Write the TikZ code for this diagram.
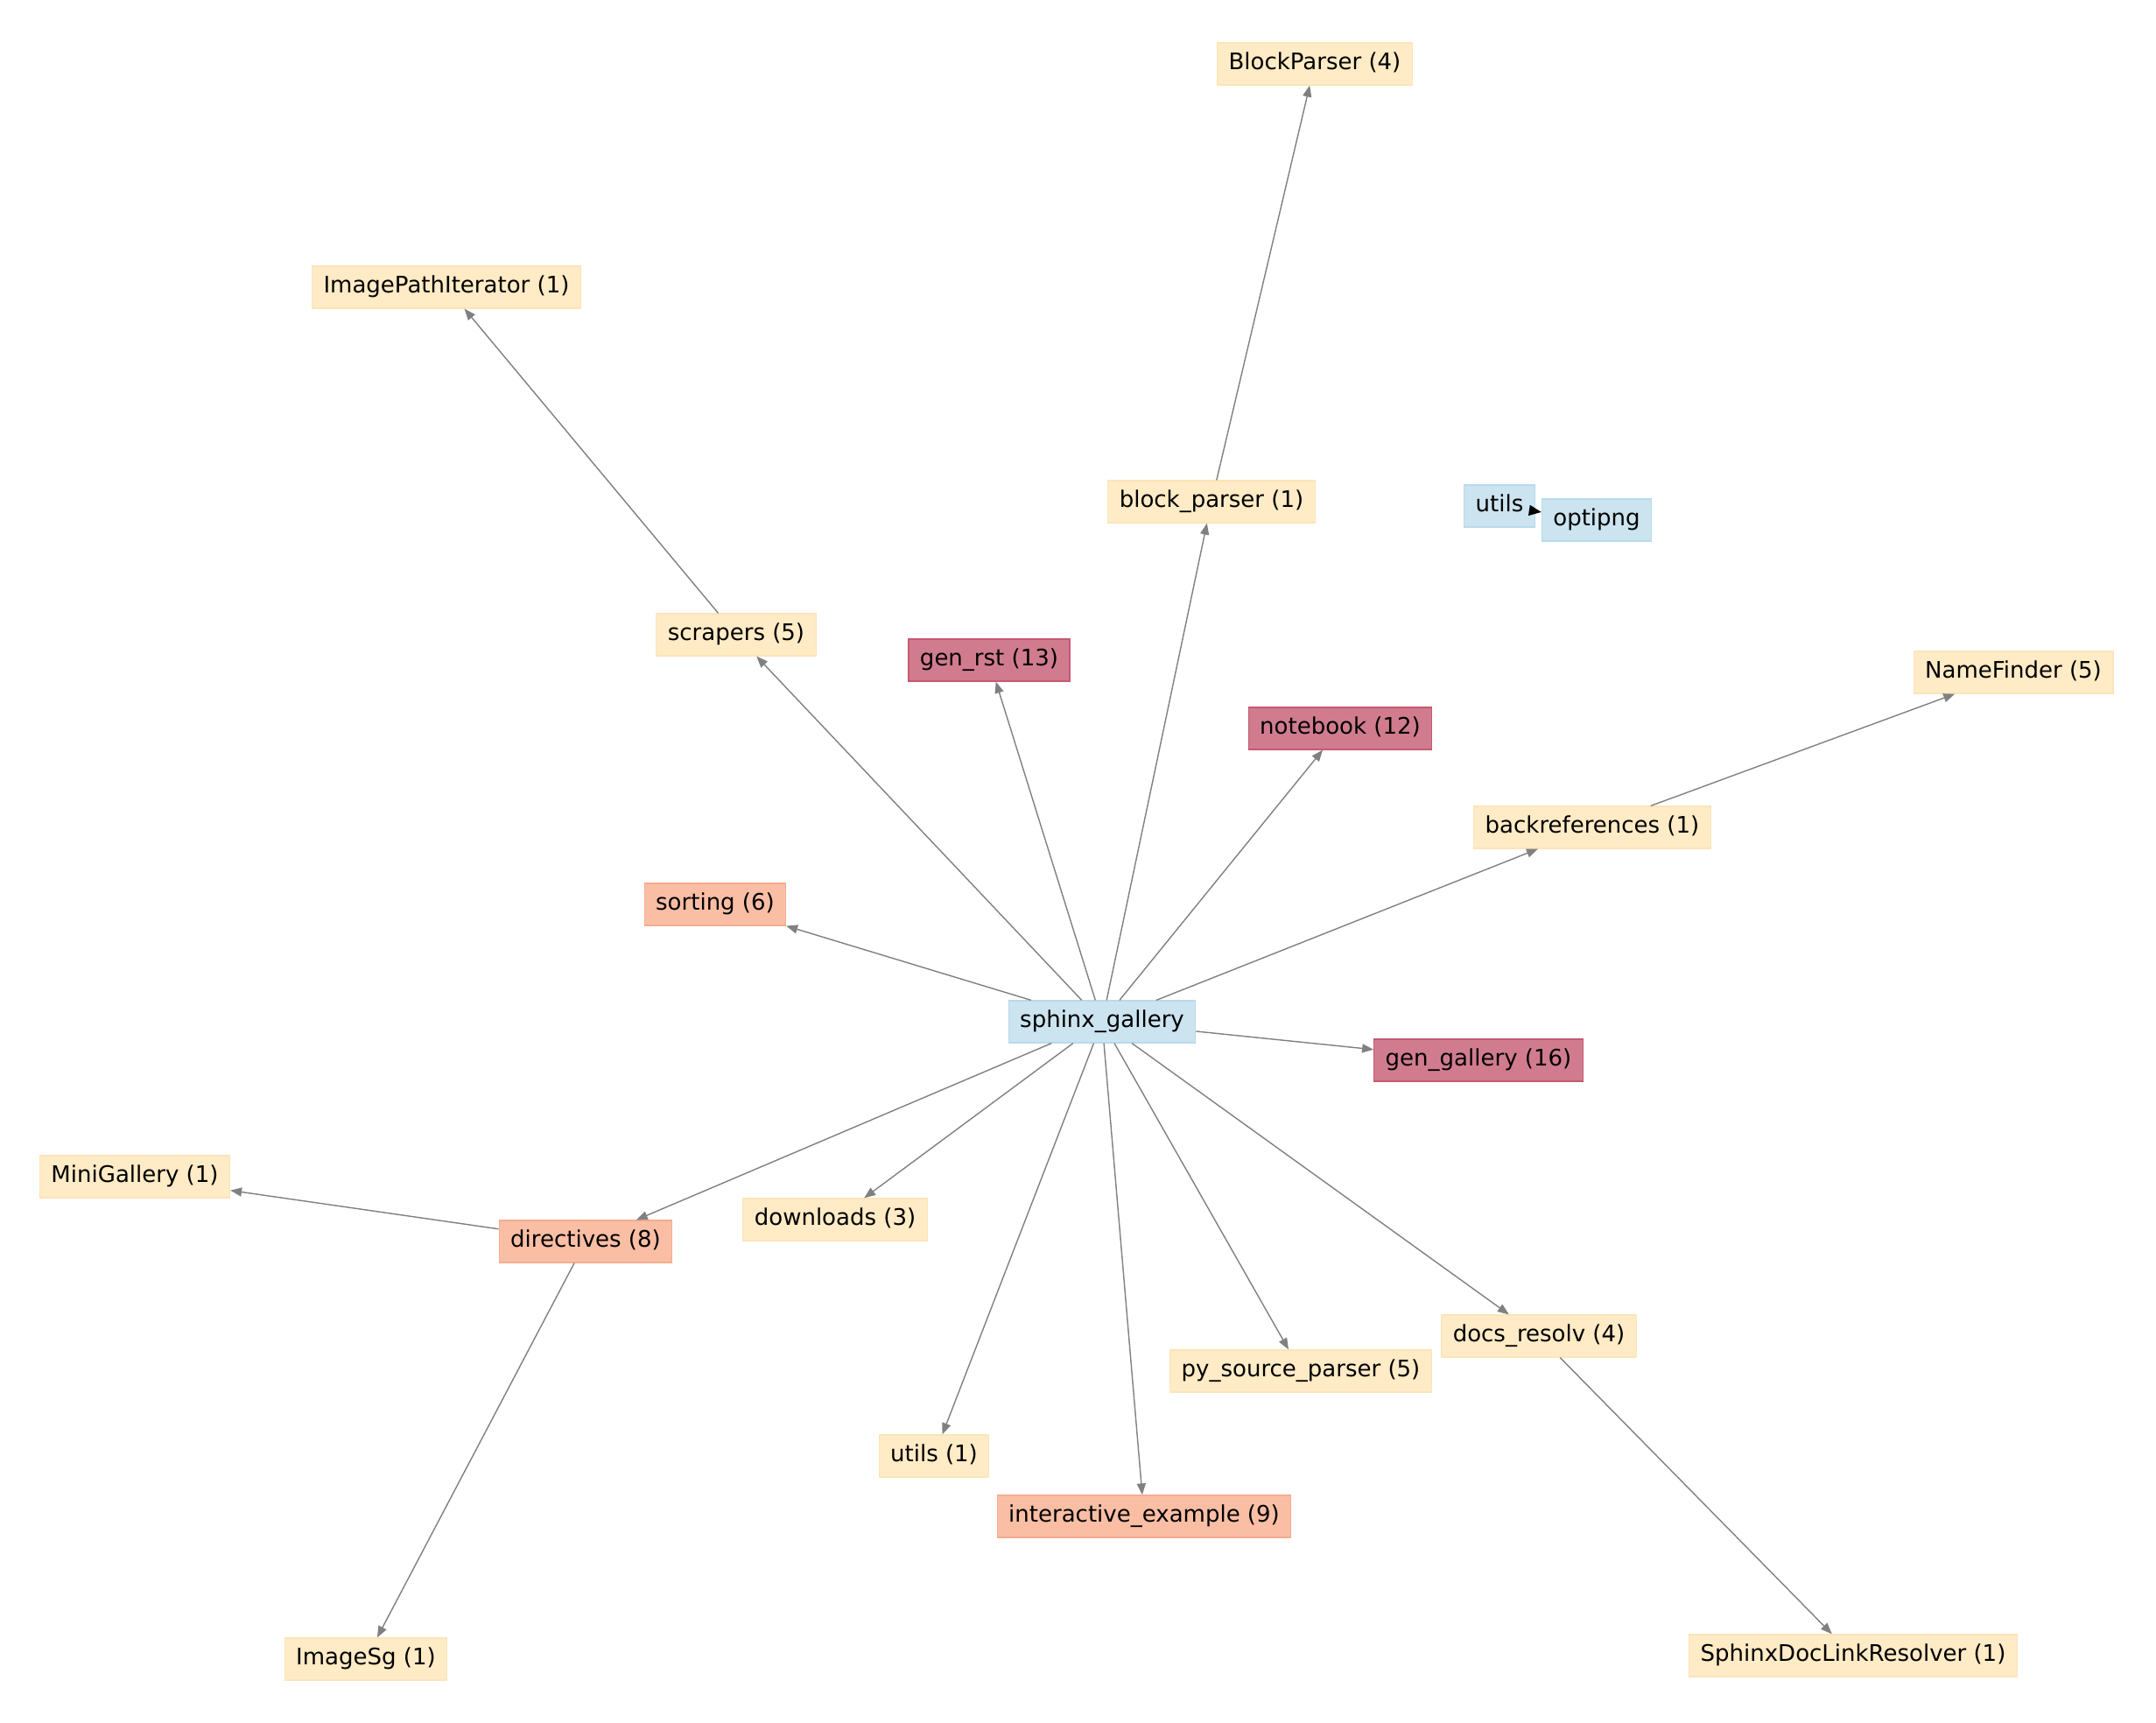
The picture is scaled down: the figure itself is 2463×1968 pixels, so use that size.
\documentclass[tikz,border=0pt]{standalone}
\usepackage{fontspec}
\setmainfont{DejaVu Sans}
\usetikzlibrary{arrows.meta}
\definecolor{bluef}{RGB}{204,227,240}
\definecolor{blued}{RGB}{185,218,236}
\definecolor{yelf}{RGB}{255,235,197}
\definecolor{yeld}{RGB}{252,228,186}
\definecolor{oraf}{RGB}{250,190,165}
\definecolor{orad}{RGB}{246,172,142}
\definecolor{redf}{RGB}{209,124,142}
\definecolor{redd}{RGB}{198,88,114}
\definecolor{edgec}{RGB}{128,128,128}
\tikzset{
  box/.style={rectangle, line width=0.6pt, inner xsep=6.5pt, inner ysep=0pt,
    minimum height=24pt, text height=9.6pt, text depth=2.8pt,
    font=\fontsize{13}{15.6}\selectfont},
  bluebox/.style={box, fill=bluef, draw=blued},
  yelbox/.style={box, fill=yelf, draw=yeld},
  orabox/.style={box, fill=oraf, draw=orad},
  redbox/.style={box, fill=redf, draw=redd},
  edge/.style={draw=edgec, line width=0.7pt, -{Triangle[length=6.5pt,width=5pt]}, fill=edgec},
  bedge/.style={draw=black, line width=0.7pt, -{Triangle[length=7pt,width=6pt]}, fill=black}
}
\begin{document}
\begin{tikzpicture}[x=0.5pt,y=-0.5pt]
\useasboundingbox (0,0) rectangle (2463,1968);
\node[yelbox] (BP) at (1502,73) {BlockParser (4)};
\node[yelbox] (IPI) at (510,328) {ImagePathIterator (1)};
\node[yelbox] (bp) at (1384,573) {block\_parser (1)};
\node[bluebox] (ut) at (1713,578) {utils};
\node[bluebox] (opt) at (1824,594) {optipng};
\node[yelbox] (scr) at (841,725) {scrapers (5)};
\node[redbox] (gr) at (1130,754) {gen\_rst (13)};
\node[yelbox] (NF) at (2300,768) {NameFinder (5)};
\node[redbox] (nb) at (1531,832) {notebook (12)};
\node[yelbox] (br) at (1819,945) {backreferences (1)};
\node[orabox] (so) at (817,1033) {sorting (6)};
\node[bluebox] (sg) at (1259,1167) {sphinx\_gallery};
\node[redbox] (gg) at (1689,1211) {gen\_gallery (16)};
\node[yelbox] (MG) at (154,1344) {MiniGallery (1)};
\node[orabox] (dir) at (669,1418) {directives (8)};
\node[yelbox] (dl) at (954,1393) {downloads (3)};
\node[yelbox] (dr) at (1758,1526) {docs\_resolv (4)};
\node[yelbox] (psp) at (1486,1566) {py\_source\_parser (5)};
\node[yelbox] (u1) at (1067,1663) {utils (1)};
\node[orabox] (ie) at (1307,1732) {interactive\_example (9)};
\node[yelbox] (IS) at (418,1895) {ImageSg (1)};
\node[yelbox] (SDLR) at (2117,1891) {SphinxDocLinkResolver (1)};
\foreach \t in {scr,gr,bp,nb,br,so,gg,dir,dl,u1,ie,psp,dr}
  \draw[edge] (sg) -- (\t);
\draw[edge] (bp) -- (BP);
\draw[edge] (scr) -- (IPI);
\draw[edge] (br) -- (NF);
\draw[edge] (dir) -- (MG);
\draw[edge] (dir) -- (IS);
\draw[edge] (dr) -- (SDLR);
\draw[bedge] (ut) -- (opt);
\end{tikzpicture}
\end{document}
